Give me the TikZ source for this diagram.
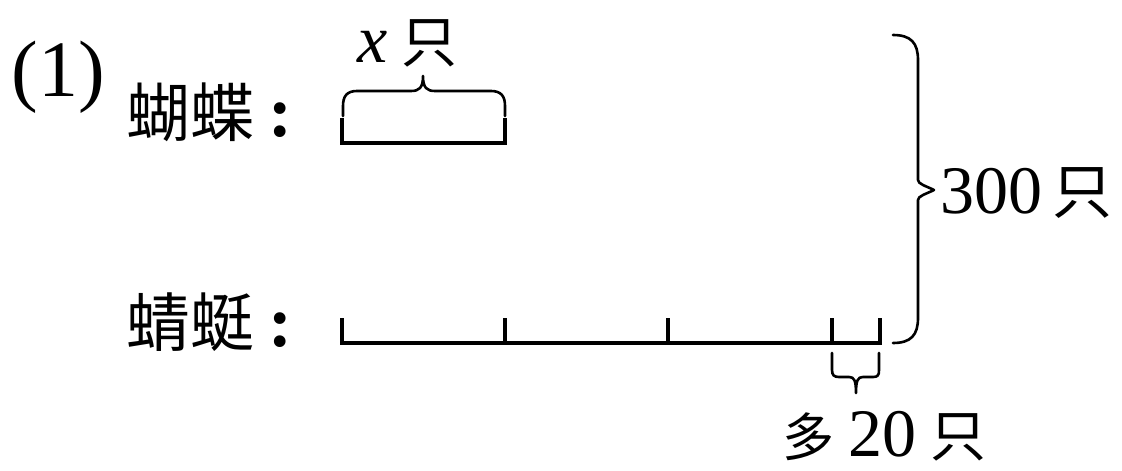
\documentclass[tikz,border=0pt]{standalone}
\usepackage{fontspec}
\setmainfont{Liberation Serif}
\newfontfamily\cjk{Noto Sans CJK SC}
\tikzset{
  lbl/.style={inner sep=0pt, outer sep=0pt},
  cjkbig/.style={lbl, font=\fontsize{64}{64}\selectfont},
  latin/.style={lbl, font=\fontsize{68}{68}\selectfont},
  barline/.style={line width=4pt, line cap=butt, line join=miter},
  braceline/.style={line width=2.6pt, line cap=round, line join=round},
}
\newcommand{\bigcolon}{{\fontsize{72}{72}\selectfont\textbf{:}}}
\begin{document}
\begin{tikzpicture}[x=1pt, y=-1pt]
\useasboundingbox (0,0) rectangle (1122,471);
% labels
\node[lbl, font=\fontsize{80}{80}\selectfont, anchor=base west] (num) at (12,96) {(1)};
\node[cjkbig, anchor=base west] (hudie) at (126,136) {{\cjk 蝴蝶}\hspace{14pt}\bigcolon};
\node[cjkbig, anchor=base west] (qingting) at (126,346) {{\cjk 蜻蜓}\hspace{14pt}\bigcolon};
\node[latin, anchor=base west] (xlab) at (357,62) {\textit{x}\hspace{14pt}{\cjk\fontsize{56}{56}\selectfont 只}};
\node[latin, anchor=base west] (total) at (940,213) {300\hspace{10pt}{\cjk\fontsize{60}{60}\selectfont 只}};
\node[latin, anchor=base west] (more) at (782,456) {{\cjk\fontsize{52}{52}\selectfont 多}\hspace{14pt}20\hspace{14pt}{\cjk\fontsize{56}{56}\selectfont 只}};
% butterfly bar
\coordinate (h0) at (342,143);
\coordinate (h1) at (505,143);
\draw[barline] ([yshift=25pt]h0) -- (h0) -- (h1) -- ([yshift=25pt]h1);
% x brace
\coordinate (xtip) at (423,76);
\draw[braceline] (343,116) -- (343,106) .. controls (343,96) and (347,91) .. (357,91) -- (411,91)
  .. controls (419,91) and (423,88) .. (xtip) .. controls (423,88) and (427,91) .. (435,91)
  -- (491,91) .. controls (501,91) and (505,96) .. (505,106) -- (505,116);
% dragonfly bar
\coordinate (q0) at (342,343);
\coordinate (q1) at (505,343);
\coordinate (q2) at (668,343);
\coordinate (q3) at (832,343);
\coordinate (q4) at (880,343);
\draw[barline] ([yshift=25pt]q0) -- (q0) -- (q4) -- ([yshift=25pt]q4);
\foreach \q in {q1,q2,q3} \draw[barline] (\q) -- ([yshift=25pt]\q);
% extra brace (20)
\coordinate (mtip) at (856,393);
\draw[braceline] (832,353) -- (832,370) .. controls (832,375) and (834,377) .. (839,377) -- (849,377)
  .. controls (854,377) and (856,380) .. (mtip) .. controls (856,380) and (858,377) .. (863,377)
  -- (873,377) .. controls (878,377) and (879,375) .. (879,370) -- (879,353);
% total brace
\coordinate (ttip) at (934,190);
\draw[braceline] (893,35) .. controls (911,35) and (918,43) .. (918,60) -- (918,180)
  .. controls (918,184) and (926,186) .. (ttip) .. controls (926,194) and (918,196) .. (918,200)
  -- (918,318) .. controls (918,335) and (911,343) .. (893,343);
\end{tikzpicture}
\end{document}
